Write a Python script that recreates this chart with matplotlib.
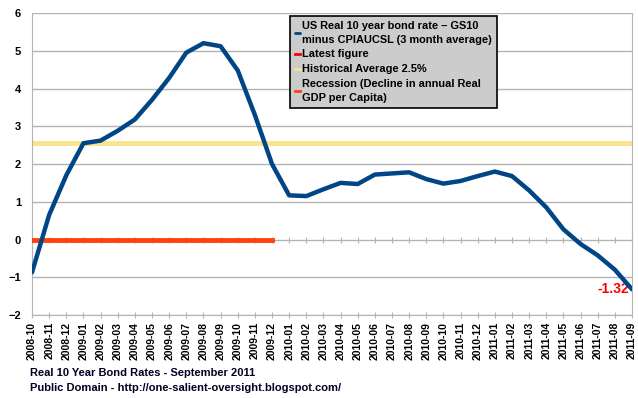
import matplotlib.pyplot as plt
import numpy as np

plt.rcParams['font.family'] = ['Liberation Sans', 'DejaVu Sans']
plt.rcParams['font.weight'] = 'bold'

# Data
months = ['2008-10', '2008-11', '2008-12', '2009-01', '2009-02', '2009-03', '2009-04',
          '2009-05', '2009-06', '2009-07', '2009-08', '2009-09', '2009-10', '2009-11',
          '2009-12', '2010-01', '2010-02', '2010-03', '2010-04', '2010-05', '2010-06',
          '2010-07', '2010-08', '2010-09', '2010-10', '2010-11', '2010-12', '2011-01',
          '2011-02', '2011-03', '2011-04', '2011-05', '2011-06', '2011-07', '2011-08',
          '2011-09']
real_rate = [-0.87, 0.65, 1.7, 2.55, 2.62, 2.88, 3.18, 3.7, 4.28, 4.95, 5.2, 5.12,
             4.48, 3.3, 2.0, 1.17, 1.15, 1.33, 1.5, 1.47, 1.72, 1.75, 1.78, 1.6,
             1.48, 1.55, 1.68, 1.8, 1.68, 1.3, 0.85, 0.27, -0.12, -0.42, -0.8, -1.32]
hist_avg = 2.55
recession_end = '2009-12'
latest = -1.32

x = np.arange(len(months))
rec_x = x[:months.index(recession_end) + 1]

fig = plt.figure(figsize=(6.38, 3.98), dpi=100)
ax = fig.add_axes([32/638, 1 - 315/398, 600/638, 302/398])

# ticks along the zero line (drawn underneath the data lines)
sec = ax.secondary_xaxis(0.25)
sec.set_xticks(x)
sec.set_xticklabels([])
sec.tick_params(length=4, color='#b3b3b3', direction='inout')
sec.spines['bottom'].set_visible(False)
sec.set_zorder(0.5)
ax.set_zorder(1)
ax.patch.set_alpha(0)

ax.plot(x, [hist_avg] * len(x), color='#fbe38a', lw=3.5, label='Historical Average 2.5%', zorder=2)
ax.plot(rec_x, [0] * len(rec_x), color='#ff420e', lw=3.5,
        label='Recession (Decline in annual Real\nGDP per Capita)', zorder=3)
ax.plot(x, real_rate, color='#004586', lw=3.2, solid_capstyle='round',
        label='US Real 10 year bond rate \u2013 GS10\nminus CPIAUCSL (3 month average)', zorder=4)
ax.plot([x[-1]], [latest], color='red', lw=2, label='Latest figure', zorder=5)
ax.annotate(f'{latest:.2f}', (x[-1], latest), xytext=(-2, 0), textcoords='offset points',
            ha='right', va='center', color='red', fontsize=10, fontweight='bold')

ax.set_xlim(0, len(x) - 1)
ax.set_ylim(-2, 6)
ax.set_yticks(range(-2, 7))
ax.set_xticks(x)
ax.set_xticklabels(months, rotation=90, fontsize=7.5)
ax.tick_params(axis='y', labelsize=8, length=0, pad=8)
ax.tick_params(axis='x', length=4, color='#b3b3b3', direction='inout', pad=3)
ax.grid(axis='y', color='#b3b3b3', lw=1)
for s in ax.spines.values():
    s.set_color('#b3b3b3')
ax.spines['top'].set_visible(False)

h, l = ax.get_legend_handles_labels()
order = [2, 3, 0, 1]
leg = ax.legend([h[i] for i in order], [l[i] for i in order], loc='upper left',
                bbox_to_anchor=(258/600, 1 - 3/302), fontsize=7.9, handlelength=0.5,
                handletextpad=0.15, borderpad=0.45, labelspacing=0.45,
                fancybox=False, framealpha=1, edgecolor='black', facecolor='#cccccc',
                borderaxespad=0)
leg.get_frame().set_linewidth(1.2)
for t in leg.get_texts():
    t.set_linespacing(1.45)
for line in leg.get_lines():
    line.set_linewidth(2)

fig.text(30/638, 1 - 373/398, 'Real 10 Year Bond Rates - September 2011', fontsize=8,
         color='#000022', va='center')
fig.text(30/638, 1 - 388/398, 'Public Domain - http://one-salient-oversight.blogspot.com/',
         fontsize=8, color='#000022', va='center')

fig.savefig('out.png', dpi=100)
